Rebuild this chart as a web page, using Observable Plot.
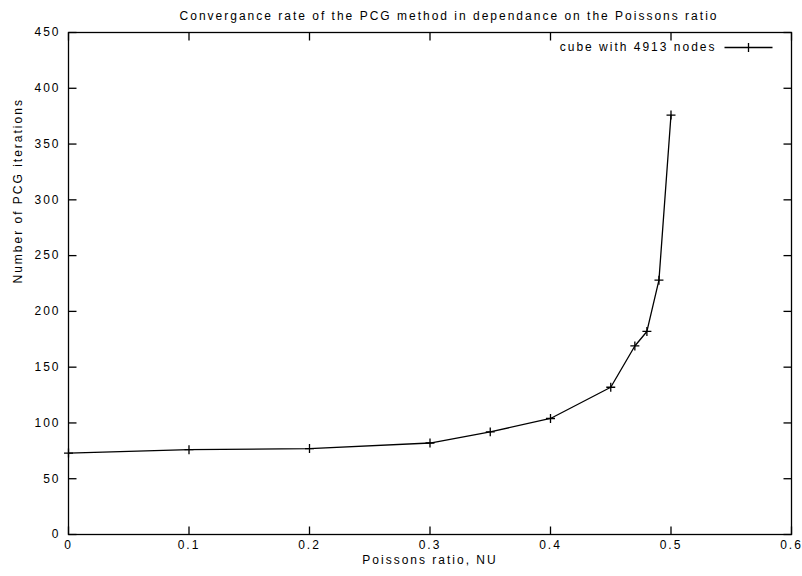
<!DOCTYPE html>
<html>
<head>
<meta charset="utf-8">
<script src="https://cdn.jsdelivr.net/npm/d3@7"></script>
<script src="https://cdn.jsdelivr.net/npm/@observablehq/plot@0.6"></script>
<style>
  body { margin: 0; background: #fff; }
  #chart svg { font-family: "Liberation Sans", Arial, sans-serif; letter-spacing: 2px; }
</style>
</head>
<body>
<div id="chart"></div>
<script>
// ---- data ----
const nu = [0, 0.1, 0.2, 0.3, 0.35, 0.4, 0.45, 0.47, 0.48, 0.49, 0.5];
const iterations = [73, 76, 77, 82, 92, 104, 132, 169, 182, 228, 376];
const xTicks = [0, 0.1, 0.2, 0.3, 0.4, 0.5, 0.6];
const yTicks = [0, 50, 100, 150, 200, 250, 300, 350, 400, 450];
const titleText = "Convergance rate of the PCG method in dependance on the Poissons ratio";
const seriesName = "cube with 4913 nodes";
const xLabel = "Poissons ratio, NU";
const yLabel = "Number of PCG iterations";

const data = nu.map((x, i) => ({nu: x, it: iterations[i]}));

const xDomain = [0, 0.6], yDomain = [0, 450];
const T = 8; // inward tick length in pixels

// tick glyphs drawn as custom dot symbols, pointing into the frame
const tickSym = (dx, dy) => ({draw(ctx) { ctx.moveTo(0, 0); ctx.lineTo(dx * T, dy * T); }});
const tickUp = tickSym(0, -1), tickDown = tickSym(0, 1), tickRight = tickSym(1, 0), tickLeft = tickSym(-1, 0);

// legend sample: a short line with a plus marker in the middle
const legendSymbol = {
  draw(ctx) {
    ctx.moveTo(-24, 0); ctx.lineTo(24, 0);
    ctx.moveTo(0, -4.5); ctx.lineTo(0, 4.5);
  }
};

const tickOpts = {r: 5, stroke: "black", fill: "none", strokeWidth: 1.3};

const chart = Plot.plot({
  width: 802,
  height: 576,
  marginLeft: 68,
  marginRight: 11,
  marginTop: 32,
  marginBottom: 42,
  style: {fontSize: "12px", background: "white", color: "black"},
  x: {domain: xDomain},
  y: {domain: yDomain},
  marks: [
    Plot.frame({stroke: "black", fill: "none", strokeWidth: 1.3}),
    Plot.axisX(xTicks, {anchor: "bottom", tickSize: 0, tickPadding: 6, tickFormat: d => String(d), label: null}),
    Plot.axisY(yTicks, {anchor: "left", tickSize: 0, tickPadding: 8, tickFormat: d => String(d), label: null}),
    // inward mirrored ticks on all four sides
    Plot.dot(xTicks, {x: d => d, y: () => yDomain[0], symbol: tickUp, ...tickOpts}),
    Plot.dot(xTicks, {x: d => d, y: () => yDomain[1], symbol: tickDown, ...tickOpts}),
    Plot.dot(yTicks, {y: d => d, x: () => xDomain[0], symbol: tickRight, ...tickOpts}),
    Plot.dot(yTicks, {y: d => d, x: () => xDomain[1], symbol: tickLeft, ...tickOpts}),
    // series
    Plot.line(data, {x: "nu", y: "it", stroke: "black", strokeWidth: 1.3}),
    Plot.dot(data, {x: "nu", y: "it", symbol: "plus", r: 3, stroke: "black", strokeWidth: 1.3}),
    // legend
    Plot.text([seriesName], {text: d => d, frameAnchor: "top-right", textAnchor: "end", lineAnchor: "middle", dx: -75, dy: 15}),
    Plot.dot([seriesName], {frameAnchor: "top-right", dx: -43, dy: 15, symbol: legendSymbol, r: 5, stroke: "black", fill: "none", strokeWidth: 1.3}),
    // title and axis labels
    Plot.text([titleText], {text: d => d, frameAnchor: "top", lineAnchor: "middle", dx: 19, dy: -16}),
    Plot.text([xLabel], {text: d => d, frameAnchor: "bottom", lineAnchor: "middle", dy: 26}),
    Plot.text([yLabel], {text: d => d, frameAnchor: "left", lineAnchor: "middle", rotate: -90, dx: -50})
  ]
});

document.getElementById("chart").append(chart);
</script>
</body>
</html>
